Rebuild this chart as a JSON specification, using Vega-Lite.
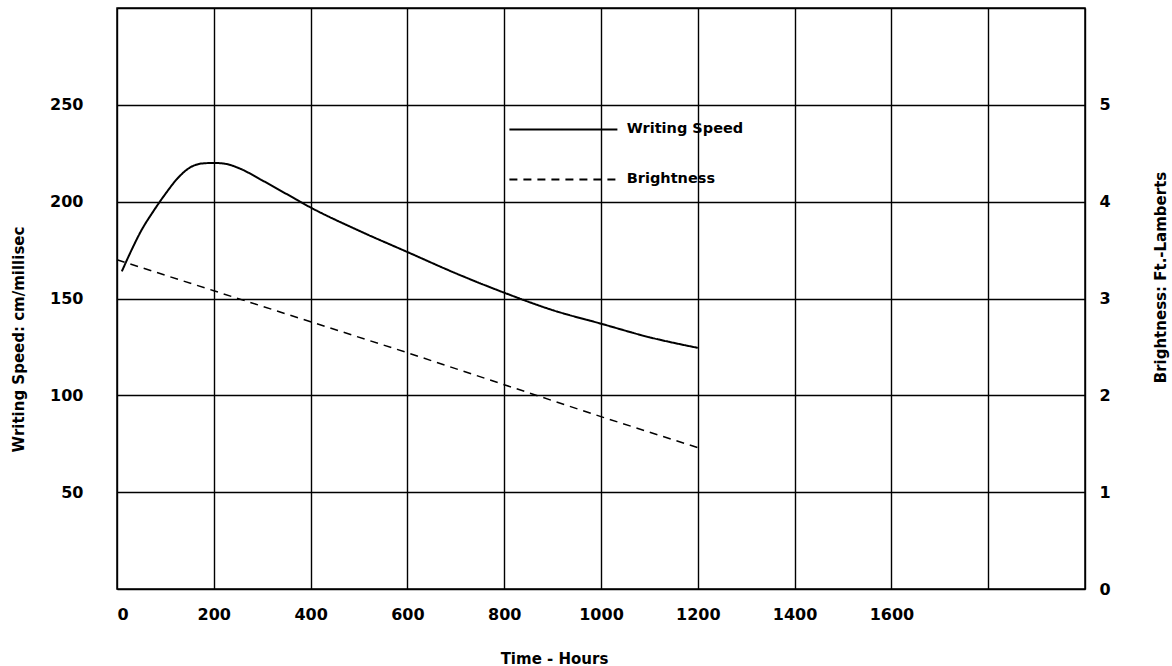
{
  "$schema": "https://vega.github.io/schema/vega-lite/v6.json",
  "autosize": "none",
  "width": 968,
  "height": 581,
  "padding": {"left": 117, "top": 8, "right": 87, "bottom": 77},
  "background": "white",
  "config": {
    "view": {"stroke": "black", "strokeWidth": 1.5},
    "font": "DejaVu Sans",
    "axis": {
      "labelFont": "DejaVu Sans", "labelFontWeight": "bold", "labelFontSize": 16, "labelColor": "black",
      "titleFont": "DejaVu Sans", "titleFontWeight": "bold", "titleFontSize": 15, "titleColor": "black",
      "ticks": false, "domain": false, "gridColor": "black", "gridOpacity": 1, "gridWidth": 1.4
    },
    "legend": {"labelFont": "DejaVu Sans", "labelFontWeight": "bold", "labelFontSize": 14.5, "labelColor": "black"}
  },
  "datasets": {
    "speed": [
      {"series": "Writing Speed", "hours": 10, "value": 164},
      {"series": "Writing Speed", "hours": 30, "value": 175},
      {"series": "Writing Speed", "hours": 50, "value": 185},
      {"series": "Writing Speed", "hours": 75, "value": 195},
      {"series": "Writing Speed", "hours": 100, "value": 204},
      {"series": "Writing Speed", "hours": 125, "value": 212},
      {"series": "Writing Speed", "hours": 150, "value": 217.5},
      {"series": "Writing Speed", "hours": 175, "value": 219.7},
      {"series": "Writing Speed", "hours": 200, "value": 220},
      {"series": "Writing Speed", "hours": 225, "value": 219.5},
      {"series": "Writing Speed", "hours": 250, "value": 217.5},
      {"series": "Writing Speed", "hours": 300, "value": 211},
      {"series": "Writing Speed", "hours": 350, "value": 204},
      {"series": "Writing Speed", "hours": 400, "value": 197},
      {"series": "Writing Speed", "hours": 500, "value": 185},
      {"series": "Writing Speed", "hours": 600, "value": 174},
      {"series": "Writing Speed", "hours": 700, "value": 163},
      {"series": "Writing Speed", "hours": 800, "value": 153},
      {"series": "Writing Speed", "hours": 900, "value": 144},
      {"series": "Writing Speed", "hours": 1000, "value": 137},
      {"series": "Writing Speed", "hours": 1100, "value": 130},
      {"series": "Writing Speed", "hours": 1200, "value": 124.5}
    ],
    "bright": [
      {"series": "Brightness", "hours": 0, "value": 3.40},
      {"series": "Brightness", "hours": 200, "value": 3.08},
      {"series": "Brightness", "hours": 400, "value": 2.76},
      {"series": "Brightness", "hours": 600, "value": 2.44},
      {"series": "Brightness", "hours": 800, "value": 2.11},
      {"series": "Brightness", "hours": 1000, "value": 1.78},
      {"series": "Brightness", "hours": 1200, "value": 1.46}
    ]
  },
  "layer": [
    {
      "data": {"name": "speed"},
      "mark": {"type": "line", "interpolate": "monotone", "color": "black", "strokeWidth": 2},
      "encoding": {
        "x": {"field": "hours", "type": "quantitative",
          "scale": {"domain": [0, 2000], "nice": false},
          "axis": {"values": [0,200,400,600,800,1000,1200,1400,1600,1800,2000], "format": "d",
            "labelExpr": "datum.value > 1600 ? '' : datum.label",
            "labelPadding": 17, "title": "Time - Hours", "titleX": 437, "titleY": 69,
            "titleAlign": "center", "titleBaseline": "middle"}},
        "y": {"field": "value", "type": "quantitative",
          "scale": {"domain": [0, 300], "nice": false},
          "axis": {"values": [0,50,100,150,200,250,300], "format": "d",
            "labelExpr": "datum.value == 0 || datum.value == 300 ? '' : datum.label",
            "labelPadding": 34, "title": "Writing Speed: cm/millisec",
            "titleAngle": -90, "titleX": -99, "titleY": 331, "titleAlign": "center", "titleBaseline": "middle"}},
        "strokeDash": {"field": "series", "type": "nominal",
          "scale": {"domain": ["Writing Speed", "Brightness"], "range": [[1, 0], [8, 6]]},
          "legend": {"title": null, "orient": "none", "legendX": 423.4, "legendY": 98.4,
            "symbolType": "M-2.5,0H2.5", "symbolSize": 1866, "symbolStrokeColor": "black", "symbolStrokeWidth": 2,
            "labelOffset": 40.4, "rowPadding": 20}}
      }
    },
    {
      "data": {"name": "bright"},
      "mark": {"type": "line", "color": "black", "strokeWidth": 1.5},
      "encoding": {
        "x": {"field": "hours", "type": "quantitative"},
        "y": {"field": "value", "type": "quantitative",
          "scale": {"domain": [0, 6], "nice": false},
          "axis": {"orient": "right", "values": [0,1,2,3,4,5], "grid": false, "format": "d",
            "labelPadding": 14, "title": "Brightness: Ft.-Lamberts",
            "titleAngle": -90, "titleX": 75, "titleY": 269, "titleAlign": "center", "titleBaseline": "middle"}},
        "strokeDash": {"field": "series", "type": "nominal"}
      }
    }
  ],
  "resolve": {"scale": {"y": "independent"}}
}
